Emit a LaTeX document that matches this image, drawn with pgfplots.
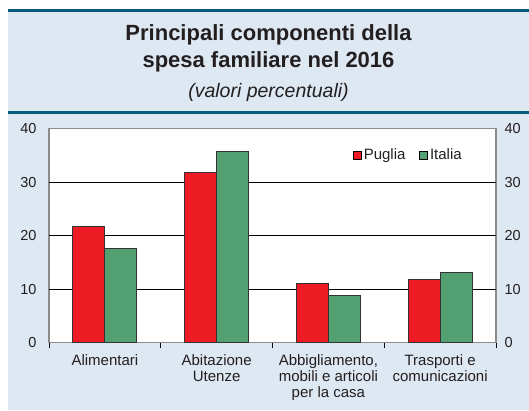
\documentclass[border=0pt]{standalone}
\usepackage{fontspec}
\setmainfont{Liberation Sans}
\usepackage{pgfplots}
\pgfplotsset{compat=1.18}
\definecolor{panel}{HTML}{DDE8F2}
\definecolor{teal}{HTML}{005B7F}
\definecolor{puglia}{HTML}{ED1C24}
\definecolor{italia}{HTML}{53A072}
\definecolor{txt}{HTML}{231F20}
\definecolor{frame}{HTML}{8C8C8C}

\begin{document}
\begin{tikzpicture}[x=1pt,y=1pt]
\useasboundingbox (0,0) rectangle (529,410);
\fill[white] (0,0) rectangle (529,410);
\fill[panel] (8,0) rectangle (529,401);
\draw[teal, line width=3pt] (8,399.5) -- (529,399.5);
\draw[teal, line width=3pt] (8,297.5) -- (529,297.5);

\node[anchor=base, text=txt, font=\fontsize{22}{26}\selectfont\bfseries] at (268.5,369.3) {Principali componenti della};
\node[anchor=base, text=txt, font=\fontsize{22}{26}\selectfont\bfseries] at (268.5,342.3) {spesa familiare nel 2016};
\node[anchor=base, text=txt, font=\fontsize{19.5}{23}\selectfont\itshape] at (268.5,312.5) {(valori percentuali)};

\begin{axis}[
  at={(49pt,67.3pt)}, anchor=south west,
  width=447pt, height=214pt, scale only axis,
  xmin=-0.5, xmax=3.5, ymin=0, ymax=40,
  axis background/.style={fill=white},
  axis line style={frame, line width=1.2pt},
  ybar=0pt, bar width=32pt,
  xtick={0,1,2,3},
  xticklabels={{Alimentari}, {Abitazione\\Utenze}, {Abbigliamento,\\mobili e articoli\\per la casa}, {Trasporti e\\comunicazioni}},
  xticklabel style={align=center, text=txt, font=\fontsize{15}{16}\selectfont, yshift=-8pt},
  minor xtick={-0.5,0.5,1.5,2.5,3.5},
  xtick pos=bottom, tick align=outside,
  major x tick style={draw=none},
  minor x tick style={black, line width=0.8pt},
  minor tick length=5pt, major tick length=0pt,
  ytick={0,10,20,30,40},
  ytick style={draw=none},
  yticklabel style={text=txt, font=\fontsize{14.5}{16}\selectfont, xshift=-9pt},
  /pgf/number format/assume math mode=true,
  extra y ticks={10,20,30},
  extra y tick labels={},
  extra y tick style={grid=major, major grid style={black, line width=0.8pt}},
  legend style={at={(0.935,0.877)}, anchor=east, draw=none, fill=none,
    font=\fontsize{15}{16}\selectfont, text=txt, legend columns=2,
    /tikz/every even column/.append style={column sep=12pt}},
  legend image code/.code={\draw[#1, draw=black, line width=0.6pt] (0pt,-4pt) rectangle (8pt,4pt);},
]
\addplot[fill=puglia, draw=black!80, line width=0.8pt] coordinates {(0,21.8) (1,31.8) (2,11.0) (3,11.8)};
\addplot[fill=italia, draw=black!80, line width=0.8pt] coordinates {(0,17.7) (1,35.7) (2,8.9) (3,13.1)};
\legend{Puglia, Italia}
\end{axis}

\begin{axis}[
  at={(49pt,67.3pt)}, anchor=south west,
  width=447pt, height=214pt, scale only axis,
  xmin=-0.5, xmax=3.5, ymin=0, ymax=40,
  hide x axis,
  axis y line*=right,
  y axis line style={draw=none},
  ytick={0,10,20,30,40},
  ytick style={draw=none},
  yticklabel style={text=txt, font=\fontsize{14.5}{16}\selectfont, xshift=5pt},
  /pgf/number format/assume math mode=true,
]
\addplot[draw=none] coordinates {(0,0)};
\end{axis}
\end{tikzpicture}
\end{document}
